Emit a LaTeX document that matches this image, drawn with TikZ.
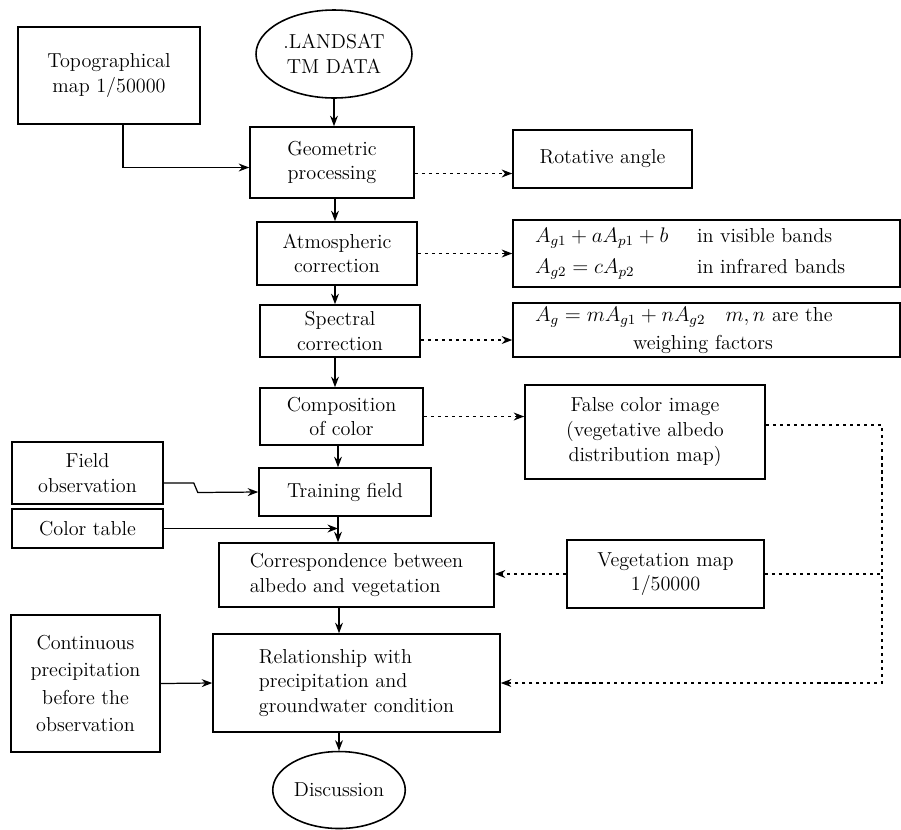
\documentclass[tikz,border=0pt]{standalone}
\usetikzlibrary{shapes.geometric,arrows.meta}
\begin{document}
\begin{tikzpicture}[x=0.02cm, y=-0.02cm,
    every node/.style={font=\fontsize{11.5}{14}\selectfont},
    box/.style={draw, line width=0.9pt, align=center, inner sep=2pt},
    oval/.style={draw, ellipse, line width=0.9pt, align=center, inner sep=1pt},
    arr/.style={-{Stealth[length=6pt,width=4.5pt]}, line width=0.7pt},
    dotarr/.style={-{Stealth[length=6pt,width=4.5pt]}, line width=0.8pt, dash pattern=on 1.8pt off 2.2pt},
    dotline/.style={line width=0.8pt, dash pattern=on 1.8pt off 2.2pt}]
    \useasboundingbox (0,0) rectangle (901,829);
    \node[box, minimum width=3.64cm, minimum height=1.94cm] (topo) at (109,75.5) {Topographical\\map 1/50000};
    \node[oval, minimum width=3.12cm, minimum height=1.76cm] (landsat) at (334,54) {.LANDSAT\\TM DATA};
    \node[box, minimum width=3.28cm, minimum height=1.42cm] (geo) at (332,162.5) {Geometric\\processing};
    \node[box, minimum width=3.58cm, minimum height=1.16cm] (rot) at (602.5,159) {Rotative angle};
    \node[box, minimum width=3.20cm, minimum height=1.26cm] (atm) at (337,253.5) {Atmospheric\\correction};
    \node[box, minimum width=7.74cm, minimum height=1.34cm, align=left, text width=6.86cm] (form1) at (706.5,253.5)
        {\makebox[3.24cm][l]{$A_{g1}+aA_{p1}+b$}in visible bands\\[4pt]\makebox[3.24cm][l]{$A_{g2}=cA_{p2}$}in infrared bands};
    \node[box, minimum width=3.20cm, minimum height=1.04cm] (spec) at (340,331) {Spectral\\correction};
    \node[box, minimum width=7.74cm, minimum height=1.08cm, align=left, text width=6.86cm] (form2) at (706.5,330)
        {$A_g=mA_{g1}+nA_{g2}$\quad$m,n$ are the\\[2pt]\hspace*{1.96cm}weighing factors};
    \node[box, minimum width=3.26cm, minimum height=1.14cm] (comp) at (341.5,416.5) {Composition\\of color};
    \node[box, minimum width=4.80cm, minimum height=1.88cm] (false) at (645,432) {False color image\\(vegetative albedo\\distribution map)};
    \node[box, minimum width=3.02cm, minimum height=1.24cm] (field) at (87.5,473) {Field\\observation};
    \node[box, minimum width=3.02cm, minimum height=0.78cm] (color) at (87.5,528.5) {Color table};
    \node[box, minimum width=3.44cm, minimum height=0.96cm] (train) at (345,492) {Training field};
    \node[box, minimum width=5.50cm, minimum height=1.28cm, align=left] (corr) at (356.5,575) {Correspondence between\\albedo and vegetation};
    \node[box, minimum width=3.94cm, minimum height=1.36cm] (veg) at (665.5,574) {Vegetation map\\1/50000};
    \node[box, minimum width=2.98cm, minimum height=2.74cm, font=\fontsize{11.5}{15.6}\selectfont] (cont) at (85.5,683.5) {Continuous\\precipitation\\before the\\observation};
    \node[box, minimum width=5.74cm, minimum height=1.96cm, align=left] (rel) at (356.5,683) {Relationship with\\precipitation and\\groundwater condition};
    \node[oval, minimum width=2.44cm, minimum height=1.54cm] (disc) at (339,790) {Discussion};
    \coordinate (sp1) at (335,0);
    \coordinate (sp2) at (338,0);
    \coordinate (rail) at (882,0);
    \draw[arr] (landsat) -- (landsat |- geo.north);
    \draw[arr] (sp1 |- geo.south) -- (sp1 |- atm.north);
    \draw[arr] (sp1 |- atm.south) -- (sp1 |- spec.north);
    \draw[arr] (sp1 |- spec.south) -- (sp1 |- comp.north);
    \draw[arr] (sp2 |- comp.south) -- (sp2 |- train.north);
    \draw[arr] (sp2 |- train.south) -- (sp2 |- corr.north);
    \draw[arr] (disc |- corr.south) -- (disc |- rel.north);
    \draw[arr] (disc |- rel.south) -- (disc);
    \draw[arr] ([xshift=0.28cm]topo.south) |- ([yshift=-0.1cm]geo.west);
    \draw[arr] ([yshift=-0.2cm]field.east) -- ++(30,0) -- ++(4,9.5) -- (train.west);
    \draw[arr] (color.east) -- (color.east -| sp2);
    \draw[arr] (cont.east) -- (rel.west);
    \draw[dotarr] ([yshift=-0.22cm]geo.east) -- ([yshift=-0.22cm]geo.east -| rot.west);
    \draw[dotarr] (atm.east) -- (atm.east -| form1.west);
    \draw[dotarr] ([yshift=-0.18cm]spec.east) -- ([yshift=-0.18cm]spec.east -| form2.west);
    \draw[dotarr] (comp.east) -- (comp.east -| false.west);
    \draw[dotarr] ([yshift=0.14cm]false.east) -| (rail |- rel.east) -- (rel.east);
    \draw[dotline] (veg.east) -- (veg.east -| rail);
    \draw[dotarr] (veg.west) -- (veg.west -| corr.east);
\end{tikzpicture}
\end{document}
